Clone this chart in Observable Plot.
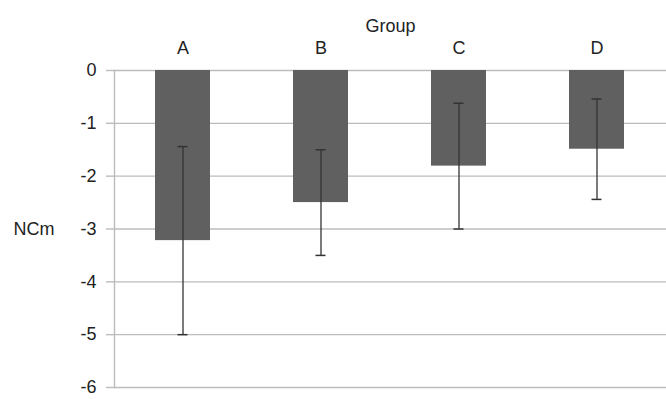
<!DOCTYPE html>
<html>
<head>
<meta charset="utf-8">
<script src="https://cdn.jsdelivr.net/npm/d3@7"></script>
<script src="https://cdn.jsdelivr.net/npm/@observablehq/plot@0.6"></script>
<style>
  html, body { margin: 0; padding: 0; background: #fff; }
  svg { display: block; }
</style>
</head>
<body>
<div id="chart"></div>
<script>
const groups = ["A", "B", "C", "D"];
const means = [-3.22, -2.5, -1.81, -1.49];
const sds = [1.78, 1.0, 1.19, 0.95];
const yTicks = [0, -1, -2, -3, -4, -5, -6];
const xTitle = "Group";
const yTitle = "NCm";

const data = groups.map((g, i) => ({group: g, mean: means[i], lo: means[i] - sds[i], hi: means[i] + sds[i]}));

const font = "'Liberation Sans', Arial, sans-serif";
const gridColor = "#bcbcbc";

const chart = Plot.plot({
  width: 666,
  height: 399,
  marginTop: 70,
  marginBottom: 12,
  marginLeft: 114,
  marginRight: 0,
  style: {fontFamily: font, fontSize: "18px", color: "#222", background: "#fff"},
  x: {domain: groups, paddingInner: 0.6, paddingOuter: 0.3, axis: "top", tickSize: 0, tickPadding: 17, label: null},
  y: {domain: [-6, 0], ticks: yTicks, label: null},
  marks: [
    Plot.ruleY(yTicks, {stroke: gridColor, strokeWidth: 1.4}),
    Plot.axisY({ticks: yTicks, tickSize: 8, tickPadding: 10, stroke: gridColor, strokeWidth: 1.4, strokeOpacity: 1, tickFormat: d => String(d), label: null, fill: "#222"}),
    Plot.frame({anchor: "left", stroke: gridColor, strokeWidth: 1.4}),
    Plot.barY(data, {x: "group", y: "mean", fill: "#606060"}),
    Plot.ruleX(data, {x: "group", y1: "lo", y2: "hi", stroke: "#333", strokeWidth: 1.3}),
    Plot.tickY(data, {x: "group", y: "lo", stroke: "#333", strokeWidth: 1.5, insetLeft: 22.5, insetRight: 22.5}),
    Plot.tickY(data, {x: "group", y: "hi", stroke: "#333", strokeWidth: 1.5, insetLeft: 22.5, insetRight: 22.5}),
    Plot.text([xTitle], {frameAnchor: "top", dy: -51, fill: "#222", fontSize: 18}),
    Plot.text([yTitle], {frameAnchor: "left", dx: -101, textAnchor: "start", fill: "#222", fontSize: 18})
  ]
});
document.getElementById("chart").appendChild(chart);
</script>
</body>
</html>
